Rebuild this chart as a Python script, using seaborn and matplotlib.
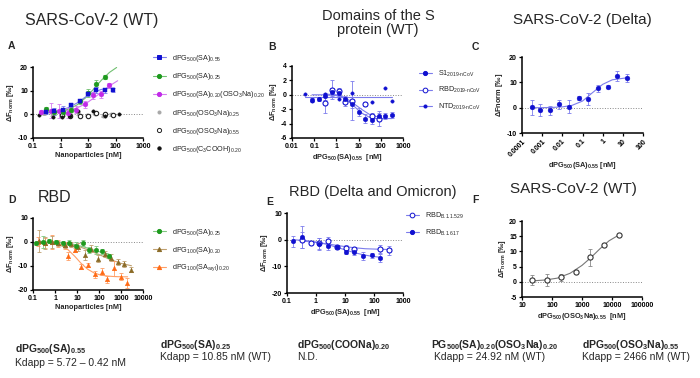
import matplotlib
matplotlib.use("Agg")
import matplotlib.pyplot as plt
from matplotlib.lines import Line2D
import seaborn as sns

sns.set_style("ticks")
plt.rcParams['font.family'] = ['Liberation Sans', 'DejaVu Sans']
plt.rcParams['mathtext.fontset'] = 'custom'
plt.rcParams['mathtext.rm'] = 'Liberation Sans'
plt.rcParams['mathtext.it'] = 'Liberation Sans:italic'
plt.rcParams['mathtext.bf'] = 'Liberation Sans:bold'
plt.rcParams['mathtext.default'] = 'regular'

# ---- Panel A: SARS-CoV-2 (WT), nanoparticles [nM] ----
a_sa055_x = [0.3, 0.6, 1.2, 2.5, 5, 10, 20, 40, 80]
a_sa055_y = [1.0, 1.2, 2.0, 3.8, 5.6, 8.7, 10.2, 10.2, 10.2]
a_sa055_e = [1.0, 1.5, 1.5, 1.0, 1.0, 1.0, 1.2, 1.0, 0.8]
a_sa055_cx = [0.3, 0.6, 1, 2, 4, 8, 15, 30, 60, 90]
a_sa055_cy = [0.6, 1.1, 1.7, 2.9, 4.8, 7.3, 9.2, 10.5, 11.0, 11.1]

a_sa025_x = [0.3, 0.6, 1.2, 2.4, 5, 10, 20, 40]
a_sa025_y = [2.2, 0.8, 1.0, 2.0, 5.5, 9.0, 13.0, 15.7]
a_sa025_e = [1.0, 1.0, 1.5, 1.0, 1.0, 1.5, 1.3, 0.8]
a_sa025_cx = [0.3, 0.6, 1, 2, 4, 8, 15, 30, 60, 110]
a_sa025_cy = [0.6, 0.9, 1.3, 2.2, 4.0, 6.9, 10.3, 14.3, 17.7, 19.8]

a_mix_x = [0.2, 0.45, 0.9, 1.8, 3.6, 7.5, 15, 30, 60]
a_mix_y = [1.0, 1.6, 1.3, 0.5, 2.0, 4.3, 8.0, 8.5, 12.2]
a_mix_e = [1.0, 3.0, 3.0, 2.0, 1.5, 1.5, 1.5, 1.5, 1.2]
a_mix_cx = [0.2, 0.5, 1, 2, 4, 8, 15, 30, 60, 120]
a_mix_cy = [0.9, 1.0, 1.2, 1.7, 2.7, 4.4, 6.6, 9.3, 12.0, 14.2]

a_oso025_x = [0.25, 0.5, 1.1, 2.2, 4.5, 9, 18, 36, 70]
a_oso025_y = [0.5, 0.0, -0.5, 0.0, 0.5, -0.3, 0.3, -0.5, 0.0]
a_oso055_x = [1.1, 2.3, 5, 10, 20, 40, 80]
a_oso055_y = [-0.3, -0.8, -0.8, -0.8, 0.6, 0.0, -0.2]
a_cooh_x = [0.17, 0.55, 1.1, 2.2, 4.5, 15, 40, 130]
a_cooh_y = [-0.3, -1.3, -1.0, -0.5, 1.5, 1.5, -0.6, 0.3]

a_labels = ['dPG$_{500}$(SA)$_{0.55}$', 'dPG$_{500}$(SA)$_{0.25}$',
            'dPG$_{500}$(SA)$_{0.20}$(OSO$_3$Na)$_{0.20}$',
            'dPG$_{500}$(OSO$_3$Na)$_{0.25}$', 'dPG$_{500}$(OSO$_3$Na)$_{0.55}$',
            'dPG$_{500}$(C$_3$COOH)$_{0.20}$']

# ---- Panel B: domains of the S protein ----
b_s1_x = [0.08, 0.16, 0.32, 0.64, 1.25, 2.5, 5, 10, 20, 40, 80, 160, 320]
b_s1_y = [-0.7, -0.55, -0.2, 0.4, 0.2, -0.6, -1.3, -2.4, -3.3, -3.5, -3.0, -2.9, -2.8]
b_s1_e = [0.3, 0.3, 0.5, 0.5, 0.4, 0.5, 0.6, 0.5, 0.6, 0.5, 0.5, 0.4, 0.4]
b_s1_cx = [0.08, 0.3, 1, 2, 4, 8, 15, 30, 60, 150, 320]
b_s1_cy = [0.0, 0.0, -0.1, -0.4, -1.0, -1.9, -2.6, -3.1, -3.3, -3.3, -3.3]
b_rbd_x = [0.32, 0.64, 1.25, 2.5, 5, 20, 40, 80]
b_rbd_y = [-1.2, 0.7, 0.5, -1.0, -0.8, -1.3, -2.9, -3.3]
b_rbd_e = [1.3, 1.3, 0.5, 0.5, 2.7, 0.3, 0.4, 1.0]
b_rbd_cx = [0.3, 1, 2, 4, 8, 15, 30, 60, 90]
b_rbd_cy = [0.1, 0.0, -0.3, -0.8, -1.5, -2.1, -2.7, -3.0, -3.1]
b_ntd_x = [0.04, 0.08, 0.16, 0.32, 1.25, 5, 40, 160, 320]
b_ntd_y = [0.15, -0.8, -0.6, 0.1, -0.6, 0.2, -1.0, 0.9, -0.8]
b_ntd_cx = [0.04, 320]
b_ntd_cy = [-0.3, -0.3]
b_labels = [r'S1$_{\text{2019-nCoV}}$', r'RBD$_{\text{2019-nCoV}}$',
            r'NTD$_{\text{2019-nCoV}}$']

# ---- Panel C: SARS-CoV-2 (Delta) ----
c_x = [0.0003, 0.00078, 0.0024, 0.007, 0.022, 0.065, 0.19, 0.6, 1.76, 5.2, 16]
c_y = [0.1, -1.0, -1.0, 1.3, 0.4, 3.7, 3.4, 7.6, 8.3, 12.5, 11.7]
c_e = [2.8, 2.3, 1.8, 1.8, 2.5, 0.8, 2.2, 1.5, 0.6, 1.8, 1.5]
c_cx = [0.0003, 0.001, 0.003, 0.01, 0.03, 0.1, 0.3, 1, 3, 16]
c_cy = [0.0, 0.0, 0.1, 0.3, 0.9, 2.6, 5.8, 9.2, 11.0, 11.8]

# ---- Panel D: RBD ----
d_g_x = [0.14, 0.28, 0.56, 1.1, 2.2, 4.5, 9, 18, 35, 70, 140, 280]
d_g_y = [-0.6, 0.0, 0.3, 0.2, -0.6, -0.3, -1.6, -0.5, -3.3, -3.3, -3.8, -5.8]
d_g_e = [0.5, 2.5, 0.8, 0.5, 1.0, 1.0, 1.5, 1.2, 1.2, 1.5, 1.0, 0.8]
d_g_cx = [0.14, 1, 3, 6, 12, 25, 50, 100, 200, 280]
d_g_cy = [0.0, -0.1, -0.4, -0.8, -1.5, -2.3, -3.2, -4.0, -4.7, -5.0]
d_b_x = [0.18, 0.35, 0.7, 1.4, 2.8, 5.6, 11, 22, 45, 90, 180, 360, 720, 1400, 2900]
d_b_y = [0.3, -0.3, -0.2, -0.6, -1.3, -1.0, -2.1, -5.5, -2.8, -7.0, -5.1, -6.5, -8.3, -9.2, -11.5]
d_b_e = [4.5, 2.5, 2.5, 1.0, 1.0, 1.0, 1.5, 2.0, 1.5, 1.5, 1.3, 1.5, 1.3, 1.2, 1.2]
d_b_cx = [0.18, 1, 3, 10, 30, 100, 300, 1000, 3000]
d_b_cy = [0.0, -0.2, -0.6, -1.6, -3.2, -5.2, -7.2, -8.9, -9.9]
d_o_x = [0.17, 0.35, 0.7, 1.4, 2.8, 4, 8, 16, 32, 65, 130, 240, 480, 960, 1900]
d_o_y = [0.2, -0.5, 0.1, -0.5, -1.3, -5.8, -3.3, -10.3, -9.6, -13.5, -12.4, -15.5, -11.0, -14.5, -17.0]
d_o_e = [2.0, 2.0, 3.0, 1.5, 1.5, 1.5, 1.0, 1.0, 1.0, 1.5, 1.5, 1.5, 3.0, 1.5, 2.0]
d_o_cx = [0.17, 0.5, 1, 2, 4, 8, 15, 30, 60, 120, 250, 500, 1000, 2000]
d_o_cy = [0.0, -0.2, -0.6, -1.5, -3.3, -6.0, -8.8, -11.3, -12.9, -13.8, -14.2, -14.4, -14.5, -14.5]
d_labels = ['dPG$_{500}$(SA)$_{0.25}$', 'dPG$_{100}$(SA)$_{0.20}$',
            'dPG$_{100}$(SA$_{aryl}$)$_{0.20}$']

# ---- Panel E: RBD (Delta and Omicron) ----
e_d_x = [0.16, 0.32, 1.3, 2.6, 5.2, 10.5, 21, 42, 83, 165]
e_d_y = [-0.6, 1.0, -1.5, -2.4, -2.7, -4.5, -4.6, -6.1, -5.9, -6.8]
e_d_e = [2.0, 4.2, 2.3, 1.5, 0.8, 1.0, 1.2, 1.5, 0.8, 1.5]
e_d_cx = [0.16, 0.5, 1, 2.5, 5, 10, 20, 40, 80, 165]
e_d_cy = [0.0, -0.4, -0.9, -1.8, -2.8, -3.8, -4.8, -5.6, -6.2, -6.6]
e_o_x = [0.32, 0.65, 1.3, 2.6, 5.2, 10.5, 21, 165, 330]
e_o_y = [-0.2, -1.3, -1.4, -0.6, -2.7, -3.0, -3.6, -3.6, -4.0]
e_o_e = [3.0, 0.5, 2.0, 1.5, 0.5, 1.0, 1.0, 1.5, 1.8]
e_o_cx = [0.32, 1, 2.5, 5, 10, 20, 50, 165, 330]
e_o_cy = [-0.5, -1.0, -1.6, -2.1, -2.6, -3.0, -3.4, -3.6, -3.7]
e_labels = [r'RBD$_{\text{B.1.1.529}}$', r'RBD$_{\text{B.1.617}}$']

# ---- Panel F: SARS-CoV-2 (WT), dPG500(OSO3Na)0.55 ----
f_x = [22, 66, 200, 610, 1840, 5500, 16700]
f_y = [0.6, 0.5, 1.5, 3.3, 8.0, 12.2, 15.3]
f_e = [1.5, 2.0, 1.2, 0.3, 2.7, 0.3, 0.3]
f_cx = [22, 60, 150, 400, 1000, 2000, 4000, 8000, 17000]
f_cy = [0.3, 0.6, 1.2, 2.8, 5.4, 8.0, 10.9, 13.5, 15.4]

BLUE = '#1010d0'
BLUE_L = '#7c7cec'
W, H = 700, 378

fig = plt.figure(figsize=(7, 3.78), dpi=100)


def make_axes(px, xlim, ylim, xticks, xlabels, yticks, xlabel, ylabel, rot=0):
    x0, y0, x1, y1 = px
    ax = fig.add_axes([x0 / W, 1 - y1 / H, (x1 - x0) / W, (y1 - y0) / H])
    ax.set_xscale('log')
    ax.set_xlim(*xlim)
    ax.set_ylim(*ylim)
    ax.set_xticks(xticks)
    ax.set_xticklabels(xlabels, rotation=rot, ha='right' if rot else 'center',
                       rotation_mode='anchor' if rot else 'default')
    ax.minorticks_off()
    ax.set_yticks(yticks)
    ax.set_yticklabels([str(t) for t in yticks])
    for s in ['top', 'right']:
        ax.spines[s].set_visible(False)
    for s in ['left', 'bottom']:
        ax.spines[s].set_linewidth(1.1)
        ax.spines[s].set_color('black')
    ax.tick_params(length=2.4, width=0.9, labelsize=5, pad=1.2, colors='black')
    for lab in ax.get_xticklabels() + ax.get_yticklabels():
        lab.set_fontweight('bold')
    ax.set_xlabel(xlabel, fontsize=5.3, labelpad=1.5)
    ax.set_ylabel(ylabel, fontsize=5.3, labelpad=1.0)
    ax.axhline(0, color='#888888', ls=':', lw=0.7, zorder=0)
    ax.set_facecolor('white')
    return ax


def series(ax, x, y, err, color, marker='o', size=12, open_=False,
           cx=None, cy=None, ccolor=None, ecolor=None):
    if cx is not None:
        sns.lineplot(x=cx, y=cy, ax=ax, color=ccolor or color, lw=0.8,
                     estimator=None, sort=False, zorder=2)
    if err is not None:
        ax.errorbar(x, y, yerr=err, fmt='none', ecolor=ecolor or ccolor or color,
                    elinewidth=0.6, capsize=1.3, capthick=0.6, zorder=3)
    if open_:
        sns.scatterplot(x=x, y=y, ax=ax, marker=marker, s=size, color='white',
                        edgecolor=color, linewidth=0.8, zorder=4)
    else:
        sns.scatterplot(x=x, y=y, ax=ax, marker=marker, s=size, color=color,
                        edgecolor=color, linewidth=0.3, zorder=4)


def handle(color, marker='o', open_=False, ms=3.0, lcolor=None):
    return Line2D([], [], color=lcolor or color, lw=0.8, marker=marker,
                  markersize=ms, markerfacecolor='white' if open_ else color,
                  markeredgecolor=color, markeredgewidth=0.7)


yl_norm = r'$\mathbf{\Delta F_{norm}\ [‰]}$'
LEG = dict(frameon=False, fontsize=5.2, handlelength=1.8, handletextpad=0.8,
           borderaxespad=0, loc='upper left')

# ---------- A ----------
axA = make_axes((33, 67, 143, 138), (0.1, 1000), (-10, 20),
                [0.1, 1, 10, 100, 1000], ['0.1', '1', '10', '100', '1000'],
                [-10, 0, 10, 20], 'Nanoparticles [nM]', yl_norm)
axA.xaxis.label.set_fontweight('bold')
GREEN = '#1e9a1e'
MAG = '#c22ae8'
series(axA, a_oso025_x, a_oso025_y, [0.6] * 9, '#a8a8a8', size=6)
series(axA, a_oso055_x, a_oso055_y, None, '#222222', size=10, open_=True)
series(axA, a_cooh_x, a_cooh_y, None, '#111111', size=6)
series(axA, a_mix_x, a_mix_y, a_mix_e, MAG, cx=a_mix_cx, cy=a_mix_cy, ccolor='#d47cf0')
series(axA, a_sa025_x, a_sa025_y, a_sa025_e, GREEN, cx=a_sa025_cx, cy=a_sa025_cy, ccolor='#70c070')
series(axA, a_sa055_x, a_sa055_y, a_sa055_e, BLUE, marker='s', size=9,
       cx=a_sa055_cx, cy=a_sa055_cy, ccolor=BLUE_L)
hA = [handle(BLUE, 's', lcolor=BLUE_L), handle(GREEN, lcolor='#70c070'),
      handle(MAG, lcolor='#d47cf0'), handle('#a8a8a8', ms=2.2, lcolor='none'),
      handle('#222222', open_=True, lcolor='none'), handle('#111111', ms=2.4, lcolor='none')]
fig.legend(hA, a_labels, bbox_to_anchor=(150 / W, 1 - 50 / H), labelspacing=1.0, **LEG)

# ---------- B ----------
axB = make_axes((292, 66, 403, 138), (0.01, 1000), (-6, 4),
                [0.01, 0.1, 1, 10, 100, 1000], ['0.01', '0.1', '1', '10', '100', '1000'],
                [-6, -4, -2, 0, 2, 4], r'$\mathbf{dPG_{500}(SA)_{0.55}\ \ [nM]}$', yl_norm)
series(axB, b_ntd_x, b_ntd_y, None, BLUE, size=6, cx=b_ntd_cx, cy=b_ntd_cy, ccolor=BLUE_L)
series(axB, b_rbd_x, b_rbd_y, b_rbd_e, BLUE, size=13, open_=True, cx=b_rbd_cx, cy=b_rbd_cy,
       ccolor=BLUE_L)
series(axB, b_s1_x, b_s1_y, b_s1_e, BLUE, size=11, cx=b_s1_cx, cy=b_s1_cy, ccolor=BLUE_L)
hB = [handle(BLUE, lcolor=BLUE_L), handle(BLUE, open_=True, ms=3.4, lcolor=BLUE_L),
      handle(BLUE, ms=2.2, lcolor=BLUE_L)]
fig.legend(hB, b_labels, bbox_to_anchor=(416 / W, 1 - 66 / H), labelspacing=0.85, **LEG)

# ---------- C ----------
axC = make_axes((522, 57, 643, 133), (0.0001, 100), (-10, 20),
                [0.0001, 0.001, 0.01, 0.1, 1, 10, 100],
                ['0.0001', '0.001', '0.01', '0.1', '1', '10', '100'],
                [-10, 0, 10, 20], r'$\mathbf{dPG_{500}(SA)_{0.55}\ [nM]}$',
                r'$\mathbf{\Delta Fnorm\ [‰]}$', rot=45)
series(axC, c_x, c_y, c_e, BLUE, size=12, cx=c_cx, cy=c_cy, ccolor=BLUE_L)

# ---------- D ----------
axD = make_axes((33, 218, 143, 290), (0.1, 10000), (-20, 10),
                [0.1, 1, 10, 100, 1000, 10000], ['0.1', '1', '10', '100', '1000', '10000'],
                [-20, -10, 0, 10], 'Nanoparticles [nM]', yl_norm)
axD.xaxis.label.set_fontweight('bold')
BROWN = '#8a6a26'
ORANGE = '#ff6a14'
series(axD, d_o_x, d_o_y, d_o_e, ORANGE, marker='^', size=11, cx=d_o_cx, cy=d_o_cy,
       ccolor='#ff9f66')
series(axD, d_b_x, d_b_y, d_b_e, BROWN, marker='^', size=11, cx=d_b_cx, cy=d_b_cy,
       ccolor='#c0a070')
series(axD, d_g_x, d_g_y, d_g_e, GREEN, size=11, cx=d_g_cx, cy=d_g_cy, ccolor='#80c880')
hD = [handle(GREEN, lcolor='#80c880'), handle(BROWN, '^', lcolor='#c0a070'),
      handle(ORANGE, '^', lcolor='#ff9f66')]
fig.legend(hD, d_labels, bbox_to_anchor=(150 / W, 1 - 224 / H), labelspacing=0.95, **LEG)

# ---------- E ----------
axE = make_axes((287, 213, 403, 293), (0.1, 1000), (-20, 10),
                [0.1, 1, 10, 100, 1000], ['0.1', '1', '10', '100', '1000'],
                [-20, -10, 0, 10], r'$\mathbf{dPG_{500}(SA)_{0.55}\ \ [nM]}$', yl_norm)
series(axE, e_o_x, e_o_y, e_o_e, BLUE, size=13, open_=True, cx=e_o_cx, cy=e_o_cy,
       ccolor=BLUE_L)
series(axE, e_d_x, e_d_y, e_d_e, BLUE, size=11, cx=e_d_cx, cy=e_d_cy, ccolor=BLUE_L)
hE = [handle(BLUE, open_=True, ms=3.4, lcolor=BLUE_L), handle(BLUE, lcolor=BLUE_L)]
fig.legend(hE, e_labels, bbox_to_anchor=(403 / W, 1 - 208 / H), labelspacing=0.95, **LEG)

# ---------- F ----------
axF = make_axes((522, 221, 642, 297), (10, 100000), (-5, 20),
                [10, 100, 1000, 10000, 100000], ['10', '100', '1000', '10000', '100000'],
                [-5, 0, 5, 10, 15, 20], r'$\mathbf{dPG_{500}(OSO_3Na)_{0.55}\ \ [nM]}$', yl_norm)
series(axF, f_x, f_y, f_e, '#333333', size=14, open_=True, cx=f_cx, cy=f_cy,
       ccolor='#777777', ecolor='#888888')


# ---------- titles and panel letters ----------
def ftext(px, py, s, **kw):
    fig.text(px / W, 1 - py / H, s, **kw)


ftext(25, 21, 'SARS-CoV-2 (WT)', fontsize=11.5, va='center')
ftext(378, 23, 'Domains of the S\nprotein (WT)', fontsize=10.5, va='center', ha='center',
      linespacing=1.05)
ftext(582, 20, 'SARS-CoV-2 (Delta)', fontsize=11, va='center', ha='center')
ftext(38, 197, 'RBD', fontsize=11.5, va='center')
ftext(373, 192, 'RBD (Delta and Omicron)', fontsize=10.5, va='center', ha='center')
ftext(573, 189, 'SARS-CoV-2 (WT)', fontsize=11, va='center', ha='center')

for lx, ly, letter in [(8, 46, 'A'), (268, 47, 'B'), (472, 47, 'C'),
                       (8, 200, 'D'), (266, 202, 'E'), (472, 200, 'F')]:
    ftext(lx, ly, letter, fontsize=7.5, fontweight='bold', va='center')

# ---------- bottom annotations ----------
bottom_names = [r'$\mathbf{dPG_{500}(SA)_{0.55}}$', r'$\mathbf{dPG_{500}(SA)_{0.25}}$',
                r'$\mathbf{dPG_{500}(COONa)_{0.20}}$',
                r'$\mathbf{PG_{500}(SA)_{0.20}(OSO_3Na)_{0.20}}$',
                r'$\mathbf{dPG_{500}(OSO_3Na)_{0.55}}$']
bottom_kd = ['Kdapp = 5.72 – 0.42 nM', 'Kdapp = 10.85 nM (WT)', 'N.D.',
             'Kdapp = 24.92 nM (WT)', 'Kdapp = 2466 nM (WT)']
name_pos = [(15, 349), (160, 345), (297, 345), (431, 345), (582, 345)]
kd_pos = [(15, 363), (160, 357), (297, 357), (434, 357), (582, 357)]
for s, (px, py) in zip(bottom_names, name_pos):
    ftext(px, py, s, fontsize=7.5, va='center')
for s, (px, py) in zip(bottom_kd, kd_pos):
    ftext(px, py, s, fontsize=7.5, va='center')

fig.savefig('out.png', dpi=100, facecolor='white')
